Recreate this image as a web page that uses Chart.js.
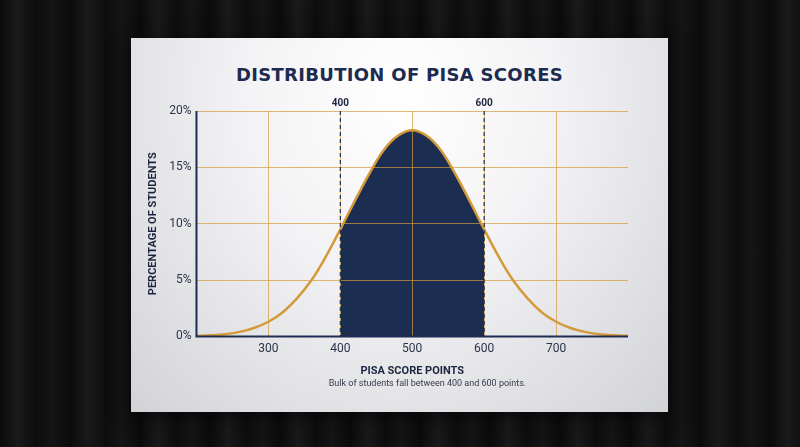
<!DOCTYPE html>
<html>
<head>
<meta charset="utf-8">
<script src="https://cdn.jsdelivr.net/npm/chart.js@4"></script>
<style>
  html, body { margin: 0; padding: 0; }
  body {
    width: 800px; height: 447px; overflow: hidden; position: relative;
    background: repeating-linear-gradient(90deg, #0b0b0c 0px, #1a1a1c 18px, #0d0d0e 36px, #151517 52px, #0b0b0c 70px);
    font-family: Roboto, "Noto Sans", sans-serif;
  }
  #card {
    position: absolute; left: 131px; top: 38px; width: 537px; height: 374px;
    background: radial-gradient(ellipse at 50% 15%, #ffffff 0%, #f3f3f5 40%, #d2d3d7 100%);
    box-shadow: 0 4px 18px rgba(0,0,0,0.6);
  }
  #title {
    position: absolute; left: 0; right: 0; top: 26px; text-align: center;
    font-family: "DejaVu Sans", sans-serif; font-weight: bold; font-size: 18px;
    color: #1c2b4f; letter-spacing: 0.3px;
  }
  #note {
    position: absolute; left: 0; right: 0; top: 340px; text-align: center;
    font-size: 9px; color: #333a4a; padding-left: 56px;
  }
  #wrap { position: absolute; left: 0; top: 55px; width: 537px; height: 289px; }
</style>
</head>
<body>
<div id="card">
  <div id="title">DISTRIBUTION OF PISA SCORES</div>
  <div id="wrap"><canvas id="chart"></canvas></div>
  <div id="note">Bulk of students fall between 400 and 600 points.</div>
</div>
<script>
// score points and percentage of students
const scores = [200, 220, 240, 260, 280, 300, 320, 340, 360, 380, 400, 420, 440, 460, 480, 500,
                520, 540, 560, 580, 600, 620, 640, 660, 680, 700, 720, 740, 760, 780, 800];
const percents = [0.05, 0.1, 0.2, 0.4, 0.75, 1.3, 2.15, 3.4, 5.0, 7.1, 9.5, 12.0, 14.4, 16.5, 17.8, 18.3,
                  17.8, 16.5, 14.4, 12.0, 9.5, 7.1, 5.0, 3.4, 2.15, 1.3, 0.75, 0.4, 0.2, 0.1, 0.05];
const bandStart = 400;
const bandEnd = 600;
const xTicks = [300, 400, 500, 600, 700];
const topLabels = ['400', '600'];

const curve = scores.map((s, i) => ({ x: s, y: percents[i] }));
const band = curve.filter(p => p.x >= bandStart && p.x <= bandEnd);

const navy = '#1c2d52';
const gold = '#d49a3a';

// dashed band edges, top labels and the two axis lines
const bandPlugin = {
    id: 'bandLines',
    afterDraw: (chart) => {
        const ctx = chart.ctx;
        const x = chart.scales.x;
        const area = chart.chartArea;
        ctx.save();
        ctx.setLineDash([4, 3]);
        ctx.lineWidth = 1.2;
        ctx.strokeStyle = navy;
        [bandStart, bandEnd].forEach((v, i) => {
            const px = x.getPixelForValue(v);
            ctx.beginPath();
            ctx.moveTo(px, area.top);
            ctx.lineTo(px, area.bottom);
            ctx.stroke();
            ctx.fillStyle = '#1c2540';
            ctx.font = 'bold 10px Roboto';
            ctx.textAlign = 'center';
            ctx.textBaseline = 'bottom';
            ctx.fillText(topLabels[i], px, area.top - 3);
        });
        ctx.setLineDash([]);
        ctx.lineWidth = 2;
        ctx.beginPath();
        ctx.moveTo(area.left, area.top);
        ctx.lineTo(area.left, area.bottom);
        ctx.lineTo(area.right, area.bottom);
        ctx.stroke();
        ctx.restore();
    }
};

new Chart(document.getElementById('chart'), {
    type: 'line',
    data: {
        datasets: [
            {
                data: curve,
                borderColor: gold,
                borderWidth: 2.5,
                fill: false,
                tension: 0.4,
                pointRadius: 0,
                order: 0
            },
            {
                data: band,
                borderColor: 'transparent',
                backgroundColor: navy,
                borderWidth: 0,
                fill: 'origin',
                tension: 0.4,
                pointRadius: 0,
                order: 1
            }
        ]
    },
    options: {
        responsive: true,
        maintainAspectRatio: false,
        animation: false,
        layout: { padding: { left: 12, right: 40, top: 18, bottom: 0 } },
        plugins: { legend: { display: false }, tooltip: { enabled: false } },
        scales: {
            x: {
                type: 'linear',
                min: 200,
                max: 800,
                afterBuildTicks: (s) => { s.ticks = xTicks.map(v => ({ value: v })); },
                ticks: { color: '#2a3347', font: { family: 'Roboto', size: 12 }, padding: 5 },
                grid: { color: 'rgba(212,154,58,0.7)', z: 1, drawTicks: false },
                border: { display: false },
                title: {
                    display: true, text: 'PISA SCORE POINTS', color: '#1c2540',
                    font: { family: 'Roboto', size: 11, weight: 'bold' }, padding: { top: 4 }
                }
            },
            y: {
                min: 0,
                max: 20,
                ticks: {
                    stepSize: 5,
                    color: '#2a3347',
                    font: { family: 'Roboto', size: 12 },
                    padding: 5,
                    callback: v => v + '%'
                },
                grid: { color: 'rgba(212,154,58,0.7)', z: 1, drawTicks: false },
                border: { display: false },
                title: {
                    display: true, text: 'PERCENTAGE OF STUDENTS', color: '#1c2540',
                    font: { family: 'Roboto', size: 11, weight: 'bold' }, padding: { bottom: 4 }
                }
            }
        }
    },
    plugins: [bandPlugin]
});
</script>
</body>
</html>
